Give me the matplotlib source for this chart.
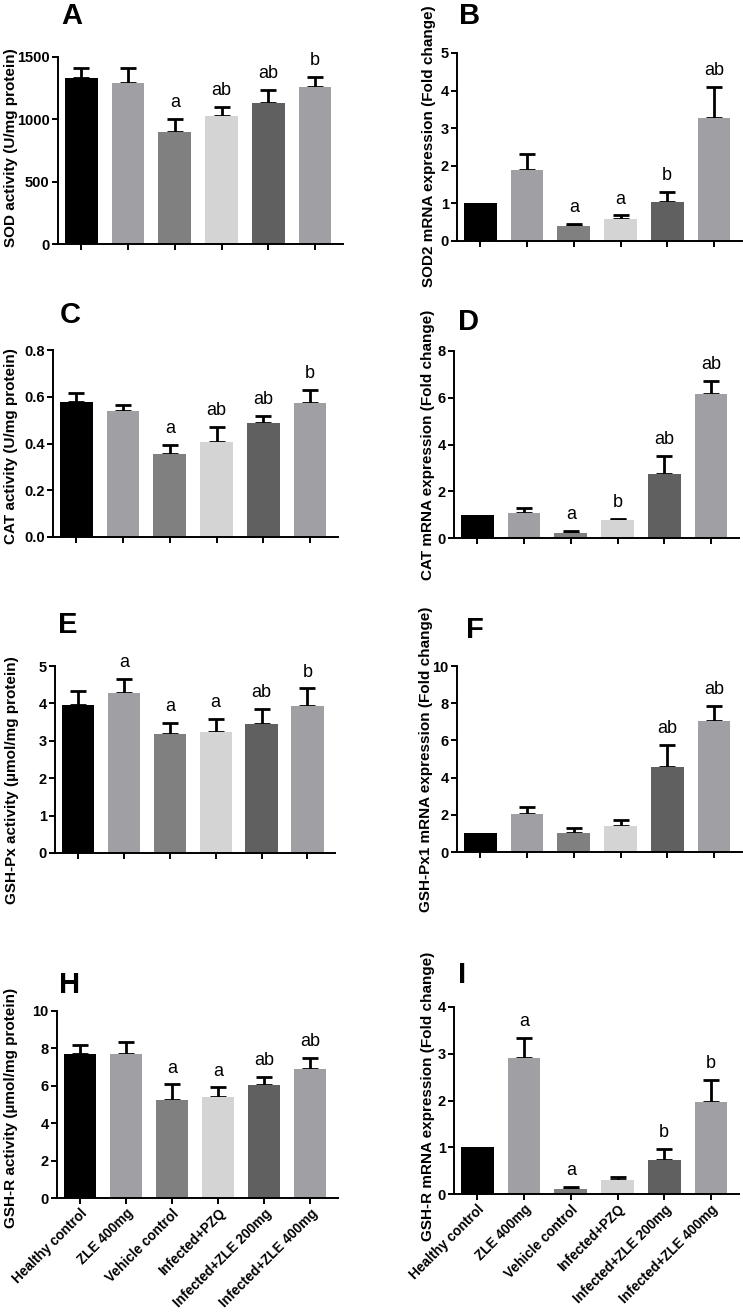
import numpy as np
import matplotlib
matplotlib.use("Agg")
import matplotlib.pyplot as plt

plt.rcParams['font.family'] = ['Liberation Sans', 'DejaVu Sans']

groups = ["Healthy control", "ZLE 400mg", "Vehicle control", "Infected+PZQ",
          "Infected+ZLE 200mg", "Infected+ZLE 400mg"]
bar_colors = ["#000000", "#A0A0A4", "#808080", "#D4D4D4", "#606060", "#A0A0A4"]

# ---- data (mean, SEM) ----
sod_act = [1333, 1289, 901, 1027, 1131, 1262]
sod_act_err = [81, 120, 102, 74, 104, 78]
sod_act_sig = ["", "", "a", "ab", "ab", "b"]

sod2_mrna = [1.0, 1.90, 0.40, 0.59, 1.04, 3.26]
sod2_mrna_err = [0.0, 0.41, 0.06, 0.09, 0.26, 0.83]
sod2_mrna_sig = ["", "", "a", "a", "b", "ab"]

cat_act = [0.576, 0.537, 0.354, 0.407, 0.487, 0.573]
cat_act_err = [0.041, 0.027, 0.039, 0.064, 0.032, 0.058]
cat_act_sig = ["", "", "a", "ab", "ab", "b"]

cat_mrna = [1.0, 1.08, 0.23, 0.76, 2.74, 6.16]
cat_mrna_err = [0.0, 0.19, 0.06, 0.07, 0.76, 0.57]
cat_mrna_sig = ["", "", "a", "b", "ab", "ab"]

gpx_act = [3.96, 4.29, 3.18, 3.23, 3.45, 3.94]
gpx_act_err = [0.37, 0.36, 0.29, 0.36, 0.41, 0.46]
gpx_act_sig = ["", "a", "a", "a", "ab", "b"]

gpx_mrna = [1.0, 2.06, 1.02, 1.41, 4.55, 7.05]
gpx_mrna_err = [0.0, 0.35, 0.27, 0.29, 1.22, 0.79]
gpx_mrna_sig = ["", "", "", "", "ab", "ab"]

gsr_act = [7.68, 7.70, 5.23, 5.38, 6.02, 6.88]
gsr_act_err = [0.50, 0.66, 0.84, 0.53, 0.46, 0.60]
gsr_act_sig = ["", "", "a", "a", "ab", "ab"]

gsr_mrna = [1.0, 2.91, 0.11, 0.29, 0.72, 1.96]
gsr_mrna_err = [0.0, 0.43, 0.05, 0.07, 0.25, 0.48]
gsr_mrna_sig = ["", "a", "a", "", "b", "b"]

W, H = 743, 1312
fig = plt.figure(figsize=(W / 100, H / 100), dpi=100)

def px_axes(left, top, right, bottom):
    return fig.add_axes([left / W, 1 - bottom / H, (right - left) / W, (bottom - top) / H])

#          letter, vals, errs, sig, ylim, yticks, fmt, ylabel, axes px (l, t, r, b), letter px, ylabel x, ylabel y
panels = [
    ("A", sod_act, sod_act_err, sod_act_sig, 1500, [0, 500, 1000, 1500], "{:.0f}",
     "SOD activity (U/mg protein)", (58, 57, 343, 244), (72, 16), 11, 148),
    ("B", sod2_mrna, sod2_mrna_err, sod2_mrna_sig, 5, [0, 1, 2, 3, 4, 5], "{:.0f}",
     "SOD2 mRNA expression (Fold change)", (457, 53, 742, 241), (470, 16), 429, 146),
    ("C", cat_act, cat_act_err, cat_act_sig, 0.8, [0, 0.2, 0.4, 0.6, 0.8], "{:.1f}",
     "CAT activity (U/mg protein)", (53, 350, 338, 537), (70, 315), 11, 446),
    ("D", cat_mrna, cat_mrna_err, cat_mrna_sig, 8, [0, 2, 4, 6, 8], "{:.0f}",
     "CAT mRNA expression (Fold change)", (454, 351, 739, 538), (469, 322), 428, 445),
    ("E", gpx_act, gpx_act_err, gpx_act_sig, 5, [0, 1, 2, 3, 4, 5], "{:.0f}",
     "GSH-Px activity (µmol/mg protein)", (55, 666, 335, 853), (68, 625), 12, 780),
    ("F", gpx_mrna, gpx_mrna_err, gpx_mrna_sig, 10, [0, 2, 4, 6, 8, 10], "{:.0f}",
     "GSH-Px1 mRNA expression (Fold change)", (457, 666, 742, 852), (475, 630), 426, 759),
    ("H", gsr_act, gsr_act_err, gsr_act_sig, 10, [0, 2, 4, 6, 8, 10], "{:.0f}",
     "GSH-R activity (µmol/mg protein)", (57, 1011, 338, 1198), (70, 985), 11, 1108),
    ("I", gsr_mrna, gsr_mrna_err, gsr_mrna_sig, 4, [0, 1, 2, 3, 4], "{:.0f}",
     "GSH-R mRNA expression (Fold change)", (454, 1007, 739, 1194), (462, 975), 428, 1096),
]

x = np.arange(len(groups))
for (letter, vals, errs, sig, ymax, yticks, fmt, ylabel, rect, lpos, ylx, yly) in panels:
    ax = px_axes(*rect)
    vals = np.array(vals)
    errs = np.array(errs)
    ax.bar(x, vals, width=0.7, color=bar_colors, zorder=2)
    has = errs > 0
    ax.errorbar(x[has], vals[has], yerr=[np.zeros(has.sum()), errs[has]], fmt="none",
                ecolor="black", elinewidth=2.0, capsize=6, capthick=2.0, zorder=1)
    for i, s in enumerate(sig):
        if s:
            ax.annotate(s, (x[i], vals[i] + errs[i]), xytext=(0, 8.5),
                        textcoords="offset points", ha="center", va="baseline",
                        fontsize=13)
    ax.set_xlim(-0.5, 5.6)
    ax.set_ylim(0, ymax)
    ax.set_yticks(yticks)
    ax.set_yticklabels([fmt.format(t) for t in yticks], fontweight="bold", fontsize=10.5)
    ax.set_xticks(x)
    if letter in ("H", "I"):
        ax.set_xticklabels(groups, rotation=45, ha="right", rotation_mode="anchor",
                           fontweight="bold", fontsize=9.8)
    else:
        ax.set_xticklabels([])
    for side in ("top", "right"):
        ax.spines[side].set_visible(False)
    for side in ("left", "bottom"):
        ax.spines[side].set_linewidth(1.4)
    ax.tick_params(width=1.4, length=4, pad=2)
    fig.text(lpos[0] / W, 1 - lpos[1] / H, letter, fontsize=21, fontweight="bold",
             ha="center", va="center")
    fig.text(ylx / W, 1 - yly / H, ylabel, rotation=90, fontsize=11,
             fontweight="bold", ha="center", va="center")

fig.savefig("out.png", dpi=100)
